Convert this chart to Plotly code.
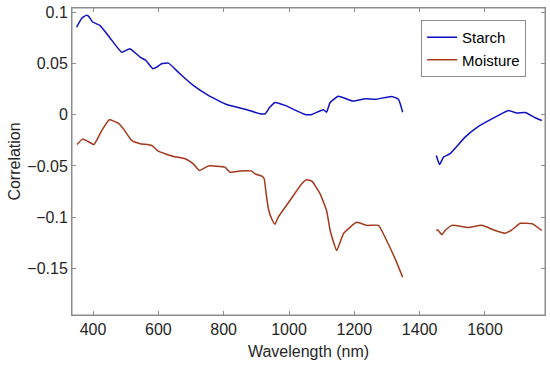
import plotly.graph_objects as go

starch_wl = [350, 365, 379, 386, 399, 421, 452, 488, 513, 544, 562, 583, 595, 610, 631, 666, 707, 753, 809, 871, 911, 927, 940, 957, 988, 1049, 1070, 1105, 1115, 1126, 1151, 1197, 1233, 1264, 1315, 1335, 1348,
             None,
             1451, 1461, 1473, 1493, 1539, 1580, 1631, 1672, 1697, 1723, 1754, 1774]
starch_val = [0.0856, 0.094, 0.097, 0.0963, 0.0905, 0.0872, 0.075, 0.061, 0.0645, 0.0563, 0.053, 0.045, 0.0465, 0.0498, 0.0504, 0.040, 0.0286, 0.0189, 0.010, 0.0049, 0.001, 0.001, 0.0068, 0.012, 0.0091, 0.0003, 0.0003, 0.0049, 0.0025, 0.012, 0.018, 0.0133, 0.0156, 0.015, 0.0179, 0.015, 0.0025,
              None,
              -0.0398, -0.0486, -0.0414, -0.038, -0.0219, -0.0114, -0.0023, 0.0042, 0.0016, 0.0022, -0.0029, -0.0056]

moist_wl = [351, 368, 383, 403, 427, 450, 477, 493, 518, 544, 580, 600, 646, 682, 707, 726, 753, 804, 819, 850, 886, 896, 917, 924, 930, 937, 947, 957, 967, 1003, 1039, 1054, 1070, 1095, 1115, 1126, 1146, 1167, 1207, 1238, 1274, 1294, 1325, 1348,
            None,
            1451, 1455, 1468, 1478, 1499, 1549, 1590, 1631, 1662, 1682, 1708, 1744, 1774]
moist_val = [-0.029, -0.0238, -0.0258, -0.029, -0.0153, -0.0049, -0.0082, -0.0137, -0.0251, -0.0283, -0.030, -0.0356, -0.0407, -0.043, -0.0479, -0.0544, -0.050, -0.0512, -0.056, -0.055, -0.055, -0.0577, -0.060, -0.0625, -0.077, -0.092, -0.1016, -0.107, -0.100, -0.0837, -0.0674, -0.0635, -0.0649, -0.077, -0.0935, -0.113, -0.1325, -0.116, -0.105, -0.108, -0.108, -0.1196, -0.1407, -0.1586,
             None,
             -0.113, -0.1125, -0.117, -0.113, -0.108, -0.110, -0.108, -0.113, -0.1157, -0.1124, -0.106, -0.1065, -0.113]

x_ticks = [400, 600, 800, 1000, 1200, 1400, 1600]
y_ticks = [-0.15, -0.1, -0.05, 0, 0.05, 0.1]
y_tick_text = ["\u22120.15", "\u22120.1", "\u22120.05", "0", "0.05", "0.1"]

FONT = "Liberation Sans, Arial, sans-serif"
AXIS_GRAY = "#8c8c8c"

fig = go.Figure()
fig.add_trace(go.Scatter(x=starch_wl, y=starch_val, mode="lines", name="Starch",
                         line=dict(color="#1010c4", width=1.5, shape="spline", smoothing=0.4),
                         connectgaps=False))
fig.add_trace(go.Scatter(x=moist_wl, y=moist_val, mode="lines", name="Moisture",
                         line=dict(color="#a3391c", width=1.5, shape="spline", smoothing=0.4),
                         connectgaps=False))

axis_common = dict(showgrid=False, zeroline=False, showline=True, linecolor=AXIS_GRAY, linewidth=1,
                   mirror="allticks", ticks="inside", ticklen=4, tickcolor=AXIS_GRAY, automargin=False,
                   tickfont=dict(family=FONT, size=16, color="#262626"))

fig.update_layout(
    width=550, height=367,
    margin=dict(l=72, r=5, t=8, b=52),
    paper_bgcolor="white", plot_bgcolor="white",
    font=dict(family=FONT, size=16, color="#262626"),
    xaxis=dict(range=[335.7, 1783.7], tickvals=x_ticks,
               title=dict(text="Wavelength (nm)", font=dict(size=16), standoff=8), **axis_common),
    yaxis=dict(range=[-0.1955, 0.1042], tickvals=y_ticks, ticktext=y_tick_text,
               title=dict(text="Correlation", font=dict(size=16), standoff=2), **axis_common),
    legend=dict(x=0.96, y=0.961, xanchor="right", yanchor="top", bgcolor="white",
                bordercolor=AXIS_GRAY, borderwidth=1, itemwidth=30,
                font=dict(family=FONT, size=15, color="#000000"), tracegroupgap=0),
    showlegend=True,
    shapes=[dict(type="rect", xref="paper", yref="paper", x0=0, x1=1, y0=0, y1=1,
                 line=dict(color=AXIS_GRAY, width=1), fillcolor="rgba(0,0,0,0)", layer="above")],
)

fig.write_html("out.html", config={"displayModeBar": False},
               post_script="document.body.style.margin='0';document.body.style.padding='0';")
